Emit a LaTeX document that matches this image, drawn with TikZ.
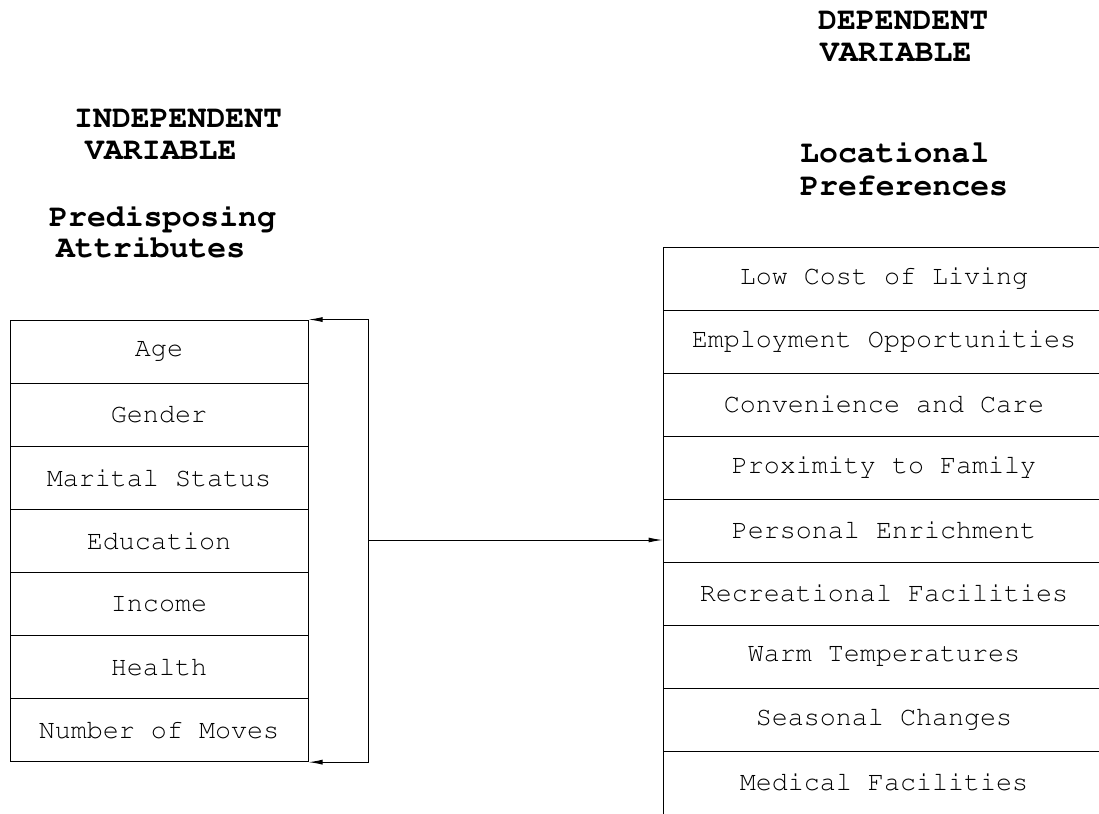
\documentclass[tikz,border=0pt]{standalone}
\usepackage[T1]{fontenc}
\renewcommand{\ttdefault}{pcr}
\usetikzlibrary{arrows.meta}
\tikzset{
  cell/.style={draw, line width=1pt, minimum height=63pt, inner sep=0pt,
    font=\fontsize{26.7}{30}\ttfamily},
  lcell/.style={cell, minimum width=298pt},
  rcell/.style={cell, minimum width=442pt},
  head/.style={anchor=base west, inner sep=0pt,
    font=\fontsize{31.5}{32}\ttfamily\bfseries},
  wire/.style={line width=1pt},
  tip/.style={-{Latex[length=14pt,width=5pt]}},
  tips/.style={{Latex[length=14pt,width=5pt]}-{Latex[length=14pt,width=5pt]}},
}
\begin{document}
\begin{tikzpicture}[x=1pt,y=-1pt]
  \useasboundingbox (0,0) rectangle (1099,813);
  \clip (0,0) rectangle (1099,813);

  % headings
  \node[head] (indep)  at (74,128)  {INDEPENDENT};
  \node[head] (indvar) at (85,160)  {VARIABLE};
  \node[head] (pred)   at (49,226)  {Predisposing};
  \node[head] (attr)   at (56,257)  {Attributes};
  \node[head] (dep)    at (818,30)  {DEPENDENT};
  \node[head] (depvar) at (820,62)  {VARIABLE};
  \node[head] (loc)    at (800,163) {Locational};
  \node[head] (pref)   at (800,195) {Preferences};

  % predisposing attributes
  \foreach \t [count=\i] in {Age, Gender, Marital Status, Education,
      Income, Health, Number of Moves}
    \node[lcell] (L\i) at (159, 288.45+63.1*\i) {\t};

  % locational preferences
  \foreach \t [count=\i] in {Low Cost of Living, Employment Opportunities,
      Convenience and Care, Proximity to Family, Personal Enrichment,
      Recreational Facilities, Warm Temperatures, Seasonal Changes,
      Medical Facilities}
    \node[rcell] (R\i) at (884, 215.5+63*\i) {\t};

  % feedback bracket and link to the preferences
  \coordinate (bx) at (368,540);
  \draw[wire,tips] (L1.north east) -- (bx |- L1.north east)
    -- (bx |- L7.south east) -- (L7.south east);
  \draw[wire,tip] (bx) -- (R5.west |- bx);
\end{tikzpicture}
\end{document}
